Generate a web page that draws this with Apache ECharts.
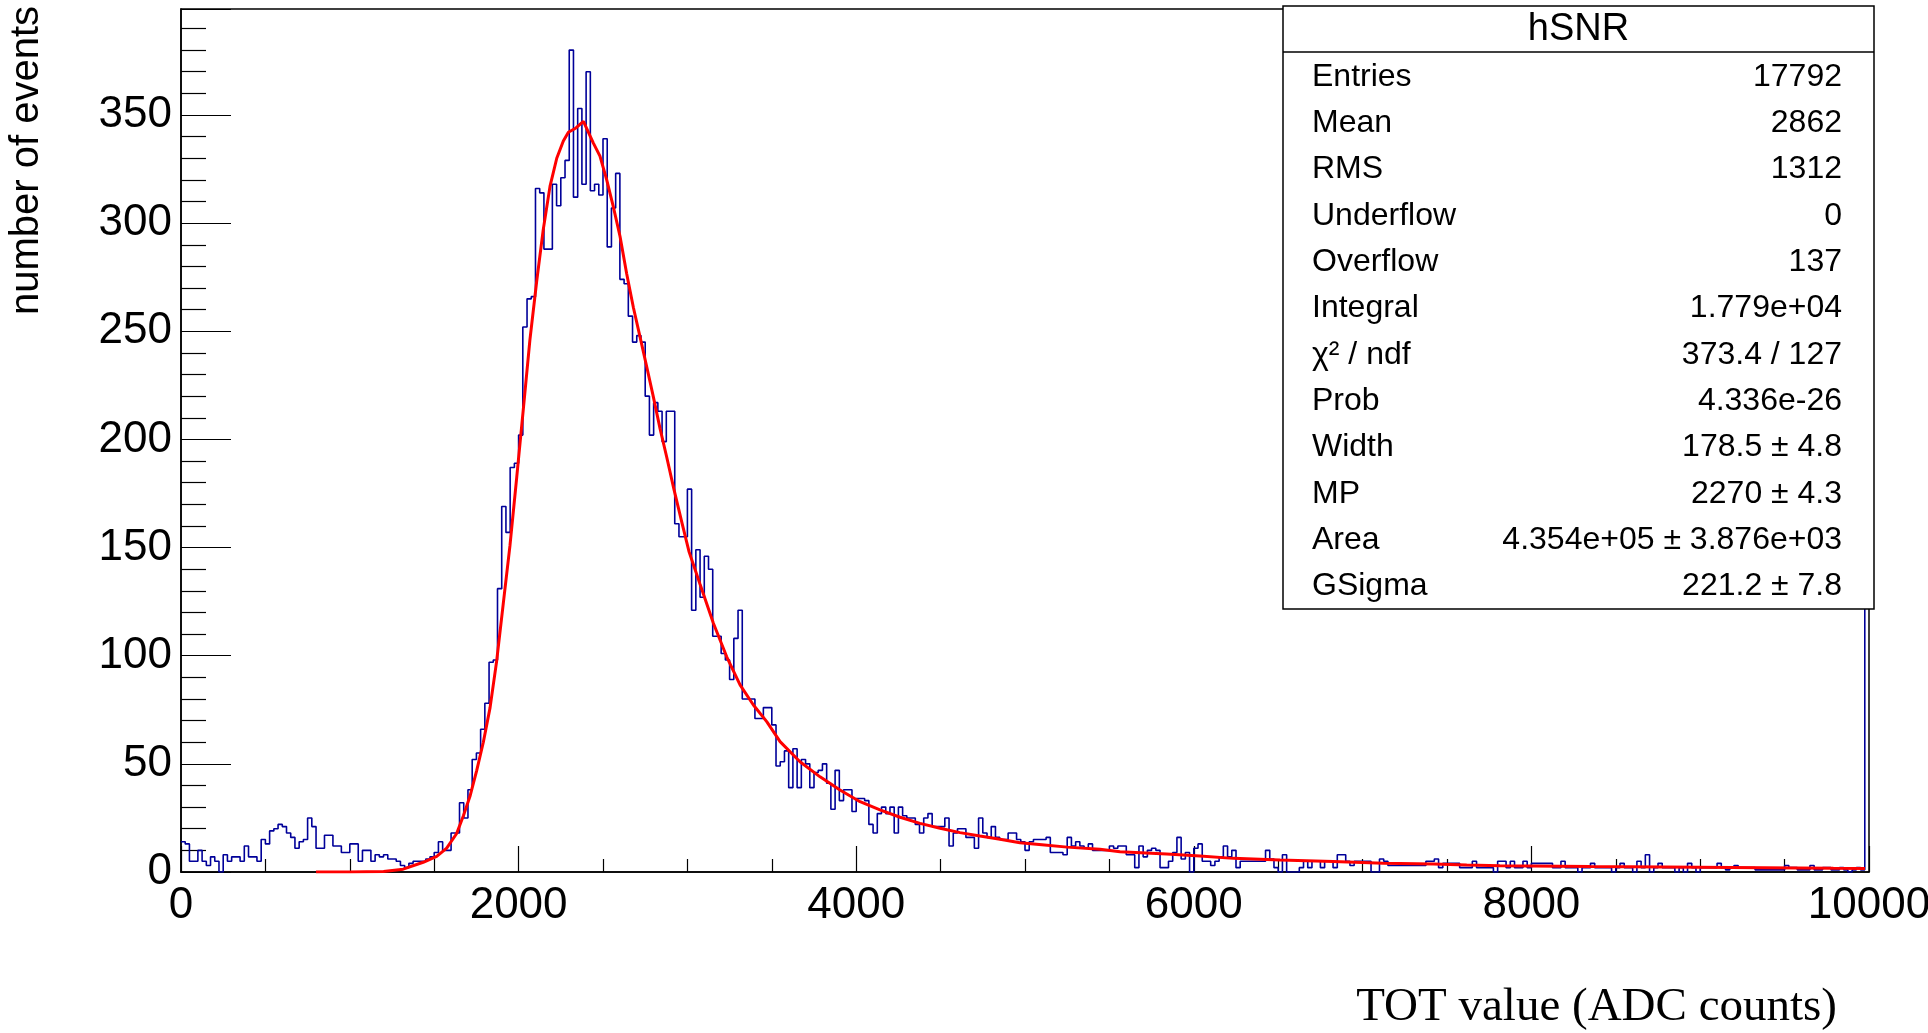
<!DOCTYPE html>
<html><head><meta charset="utf-8">
<script src="https://cdn.jsdelivr.net/npm/echarts@6/dist/echarts.min.js"></script>
<style>html,body{margin:0;padding:0;background:#fff;} #chart{width:1928px;height:1033px;}</style>
</head><body><div id="chart"></div>
<script>
// ---------------- data ----------------
const binWidth = 25;
const xRange = [0, 10000];
const yMax = 399;
const xTickInterval = 2000;
const yTickInterval = 50;

// bin contents, 25-unit bins
const countsLow = [14,13,5,5,10,5,3,7,5,0, 8,5,7,7,5,12,7,7,5,15, 13,19,20,22,21,18,16,11,14,15,
  25,21,11,11,17,17,12,12,9,9, 13,13,5,10,10,5,8,
  7,8,6,6,5,3,2,4,5,5,5,6,7,9];
const countsRise = [14,10,10,18,18,32,25,38,52,55,66,78,97,98,131,169,157];
const countsPeak = [187,189,202,252,265,266,316,314,288,288,318,308,321,329,380,312,353,318,370,315,318,313,
  339,289,307,323,274,272,257,245,248,245,220,202,217,213,199,213,213,161,155,155,177,121,
  149,127,146,140,109,109,101,98,89,108,121];
const countsFall = [80,80,80,71,71,76,76,68,49,51, 56,39,57,39,52,50,39,46,47,50,
  41,29,47,33,38,38,28,34,34,33, 22,18,27,30,27,30,18,30,26,25,
  25,22,18,25,27,21,21,21,25,12, 18,20,20,16,16,11,25,18,16,21,
  16,15,15,18,18,15,14];
const countsTail = [10,14,15,15,15,16,9,9,9,8,16,12,14,12,11,13,10,10,
  10,10,12,11,12,12,8,8,2,12, 7,10,11,10,2,2,5,9,16,6, 9,0,11,13,5,5,3,5,7,12,
  7,10,2,5,5,5,5,5,5,10, 6,2,0,8,0,0,0,2,5,2, 5,5,2,5,5,2,8,8,5,3,
  5,5,5,5,0,0,6,5,3,3, 3,3,3,3,3,3,3,5,5,6, 2,4,4,4,4,2,2,2,5,2, 2,2,2,0,5,
  5,2,5,2,2,5,2,4,4,4, 4,4,2,2,5,2,2,2,0,2, 2,4,2,2,2,2,0,2,4,2,
  2,0,5,2,8,0,2,4,2,2, 2,0,2,0,4,2,0,2,2,2, 2,4,2,1,2,3,2,2,2,2,
  1,1,1,1,1,1,1,3,2,2, 1,1,1,3,1,1,2,2,1,1, 2,1,0,1,2,1];
const countsLast = [260];

// fit curve (x, y)
const fitX = [800,1000,1200,1316,1435,1515,1574,1633,1673,1712,1752,1791,1831,1870,1909,1949,1989,2028,2067,2107,
  2146,2186,2226,2265,2295,2340,2384,2443,2482,2522,2561,2601,2640,2680,2719,2759,2798,2838,2877,2920,
  2966,3010,3075,3154,3233,3312,3391,3470,3549,3667,3786,3904,4023,4141,4260,4378,4497,4615,4733,4852,
  4970,5100,5250,5444,5563,5839,6037,6234,6511,6826,7123,7419,7617,7814,8347,8801,9374,9789,9976];
const fitY = [0,0,0.2,1.3,4.5,7.2,11,17.8,26,35,47,60,76,97.5,124,151,182.6,214,246,273,
  297,317,330,338,342,344,347,337,331,320,307.6,293.8,276.7,261,247.5,233.6,219.8,205,192,177,
  162,148,133,115,99.5,86.5,77.2,69.5,60.3,51,44,37.9,32.5,28.7,25.3,22.5,20.2,18.2,16.6,15.1,
  13.5,12.6,11.5,10.5,9.4,8.3,7.4,6.3,5.5,4.8,4.0,3.7,3.2,2.9,2.5,2.3,2.0,1.7,1.6];

const statsTitle = 'hSNR';
const statsLabels = ['Entries','Mean','RMS','Underflow','Overflow','Integral','\u03C7\u00B2 / ndf','Prob','Width','MP','Area','GSigma'];
const statsValues = ['17792','2862','1312','0','137','1.779e+04','373.4 / 127','4.336e-26','178.5 \u00B1 4.8','2270 \u00B1 4.3','4.354e+05 \u00B1 3.876e+03','221.2 \u00B1 7.8'];

const xTitle = 'TOT value (ADC counts)';
const yTitle = 'number of events';

// ---------------- chart ----------------
const counts = [].concat(countsLow, countsRise, countsPeak, countsFall, countsTail, countsLast);
const histData = counts.map((c, i) => [xRange[0] + i * binWidth, c]);
histData.push([xRange[1], counts[counts.length - 1]]);
const fitData = fitX.map((x, i) => [x, fitY[i]]);

const SANS = '"Liberation Sans", Arial, Helvetica, sans-serif';
const SERIF = '"Liberation Serif", "Times New Roman", serif';

const G = {left: 181, top: 9, right: 1869, bottom: 872};
const box = {x: 1283, y: 6, w: 591, h: 603, sep: 52};

const graphics = [];
graphics.push({type: 'rect', z: 100, shape: {x: box.x, y: box.y, width: box.w, height: box.h},
  style: {fill: '#fff', stroke: '#000', lineWidth: 1.5}});
graphics.push({type: 'line', z: 101, shape: {x1: box.x, y1: box.sep, x2: box.x + box.w, y2: box.sep},
  style: {stroke: '#000', lineWidth: 1.5}});
graphics.push({type: 'text', z: 102, style: {text: statsTitle, x: box.x + box.w / 2, y: 30,
  font: '38px ' + SANS, fill: '#000', align: 'center', verticalAlign: 'middle', textAlign: 'center', textVerticalAlign: 'middle'}});
statsLabels.forEach((lab, i) => {
  const cy = 77 + i * 46.3;
  graphics.push({type: 'text', z: 102, style: {text: lab, x: 1312, y: cy, font: '32px ' + SANS, fill: '#000',
    align: 'left', verticalAlign: 'middle', textAlign: 'left', textVerticalAlign: 'middle'}});
  graphics.push({type: 'text', z: 102, style: {text: statsValues[i], x: 1842, y: cy, font: '32px ' + SANS, fill: '#000',
    align: 'right', verticalAlign: 'middle', textAlign: 'right', textVerticalAlign: 'middle'}});
});
graphics.push({type: 'text', z: 102, x: 27, y: 6, rotation: Math.PI / 2,
  style: {text: yTitle, x: 0, y: 0, font: '40px ' + SANS, fill: '#000', align: 'right', verticalAlign: 'middle',
    textAlign: 'right', textVerticalAlign: 'middle'}});
graphics.push({type: 'text', z: 102, style: {text: xTitle, x: 1837, y: 1008, font: '47px ' + SERIF, fill: '#000',
  align: 'right', verticalAlign: 'middle', textAlign: 'right', textVerticalAlign: 'middle'}});

const chart = echarts.init(document.getElementById('chart'), null, {renderer: 'canvas'});
chart.setOption({
  animation: false,
  backgroundColor: '#fff',
  grid: {left: G.left, top: G.top, width: G.right - G.left, height: G.bottom - G.top,
    show: true, borderColor: '#000', borderWidth: 1.5, backgroundColor: 'transparent',
    containLabel: false, outerBoundsMode: 'none'},
  xAxis: {
    type: 'value', min: xRange[0], max: xRange[1], interval: xTickInterval,
    axisLine: {show: true, lineStyle: {color: '#000', width: 1.5}},
    axisTick: {show: true, inside: true, length: 26, lineStyle: {color: '#000', width: 1.2}},
    minorTick: {show: true, splitNumber: 4, length: 13, lineStyle: {color: '#000', width: 1.2}},
    splitLine: {show: false}, minorSplitLine: {show: false},
    axisLabel: {show: true, margin: 12, color: '#000', fontSize: 44, fontFamily: SANS, align: 'center',
      formatter: v => String(v)}
  },
  yAxis: {
    type: 'value', min: 0, max: yMax, interval: yTickInterval,
    axisLine: {show: true, lineStyle: {color: '#000', width: 1.5}},
    axisTick: {show: true, inside: true, length: 50, lineStyle: {color: '#000', width: 1.2}},
    minorTick: {show: true, splitNumber: 5, length: 25, lineStyle: {color: '#000', width: 1.2}},
    splitLine: {show: false}, minorSplitLine: {show: false},
    axisLabel: {show: true, margin: 9, color: '#000', fontSize: 44, fontFamily: SANS, showMaxLabel: false,
      formatter: v => String(v)}
  },
  series: [
    {type: 'line', name: 'hSNR', data: histData, step: 'end', showSymbol: false, symbol: 'none',
      clip: true, z: 3, lineStyle: {color: '#000099', width: 1.6}},
    {type: 'line', name: 'fit', data: fitData, showSymbol: false, symbol: 'none', smooth: false,
      clip: true, z: 4, lineStyle: {color: '#ff0000', width: 3}}
  ],
  graphic: graphics
});
</script>
</body></html>
